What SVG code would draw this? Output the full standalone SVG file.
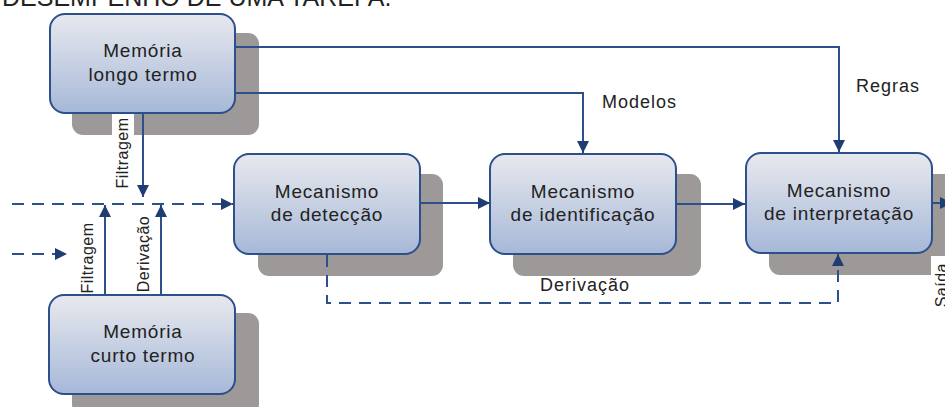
<svg xmlns="http://www.w3.org/2000/svg" width="945" height="407" viewBox="0 0 945 407">
<defs>
<linearGradient id="g" x1="0" y1="0" x2="0" y2="1">
<stop offset="0" stop-color="#e8e9ee"/>
<stop offset="1" stop-color="#a6b8d8"/>
</linearGradient>
<marker id="ah" viewBox="0 0 12 12" refX="12" refY="6" markerWidth="12" markerHeight="12" markerUnits="userSpaceOnUse" orient="auto">
<path d="M0,0 L12,6 L0,12 Z" fill="#1f3c73"/>
</marker>
</defs>
<style>
.sh{fill:#9d9999}
.bx{fill:url(#g);stroke:#2d4f8c;stroke-width:2}
.t{font-family:"Liberation Sans",Arial,sans-serif;font-size:19px;letter-spacing:0.8px;fill:#222;text-anchor:middle}
.l{font-family:"Liberation Sans",Arial,sans-serif;font-size:18px;letter-spacing:1px;fill:#222}
.r{font-family:"Liberation Sans",Arial,sans-serif;font-size:16px;letter-spacing:0.5px;fill:#222;text-anchor:middle}
.c{fill:none;stroke:#2d4f8c;stroke-width:2}
.d{fill:none;stroke:#2d4f8c;stroke-width:2;stroke-dasharray:12 8}
</style>
<rect width="945" height="407" fill="#fff"/>
<text x="2" y="6" font-family="Liberation Sans, Arial, sans-serif" font-size="25" fill="#222">DESEMPENHO DE UMA TAREFA.</text>

<g id="memoria-longo">
<rect class="sh" x="72" y="33" width="187" height="102" rx="11"/>
<rect class="bx" x="50" y="14" width="185" height="99" rx="15"/>
<text class="t" x="143" y="57">Memória</text>
<text class="t" x="143" y="81">longo termo</text>
</g>

<g id="memoria-curto">
<rect class="sh" x="72" y="313" width="187" height="102" rx="11"/>
<rect class="bx" x="49" y="295" width="186" height="99" rx="15"/>
<text class="t" x="143" y="338">Memória</text>
<text class="t" x="143" y="362">curto termo</text>
</g>

<g id="deteccao">
<rect class="sh" x="258" y="174" width="185" height="102" rx="11"/>
<rect class="bx" x="234" y="154" width="186" height="100" rx="15"/>
<text class="t" x="327" y="198">Mecanismo</text>
<text class="t" x="327" y="221">de detecção</text>
</g>

<g id="identificacao">
<rect class="sh" x="513" y="174" width="188" height="102" rx="11"/>
<rect class="bx" x="490" y="154" width="186" height="100" rx="15"/>
<text class="t" x="583" y="198">Mecanismo</text>
<text class="t" x="583" y="221">de identificação</text>
</g>

<g id="interpretacao">
<rect class="sh" x="769" y="174" width="190" height="101" rx="11"/>
<rect class="bx" x="746" y="153" width="186" height="100" rx="15"/>
<text class="t" x="839" y="197">Mecanismo</text>
<text class="t" x="839" y="220">de interpretação</text>
</g>

<g id="connectors">
<polyline class="c" points="235,47 839,47 839,152" marker-end="url(#ah)"/>
<polyline class="c" points="235,93 583,93 583,153" marker-end="url(#ah)"/>
<line class="c" x1="143" y1="114" x2="143" y2="197" marker-end="url(#ah)"/>
<line class="d" x1="12" y1="204" x2="233" y2="204" marker-end="url(#ah)"/>
<line class="d" x1="12" y1="254" x2="67" y2="254" marker-end="url(#ah)"/>
<line class="c" x1="105" y1="295" x2="105" y2="205" marker-end="url(#ah)"/>
<line class="c" x1="161" y1="295" x2="161" y2="205" marker-end="url(#ah)"/>
<line class="c" x1="421" y1="203" x2="490" y2="203" marker-end="url(#ah)"/>
<line class="c" x1="677" y1="204" x2="745" y2="204" marker-end="url(#ah)"/>
<line class="c" x1="933" y1="203" x2="952" y2="203" marker-end="url(#ah)"/>
<polyline class="d" points="327,255 327,303 838,303 838,254" marker-end="url(#ah)"/>
<text class="l" x="602" y="108">Modelos</text>
<text class="l" x="856" y="92">Regras</text>
<text class="l" x="585" y="291" text-anchor="middle">Derivação</text>
<rect x="112" y="114" width="22" height="76" fill="#fff"/>
<text class="r" transform="translate(128,153) rotate(-90)">Filtragem</text>
<text class="r" transform="translate(93,258) rotate(-90)">Filtragem</text>
<text class="r" transform="translate(149,254) rotate(-90)">Derivação</text>
<rect x="931" y="256" width="14" height="50" fill="#fff"/>
<text class="r" transform="translate(947,263) rotate(-90)" text-anchor="end" style="text-anchor:end">Saída</text>
</g>
</svg>
